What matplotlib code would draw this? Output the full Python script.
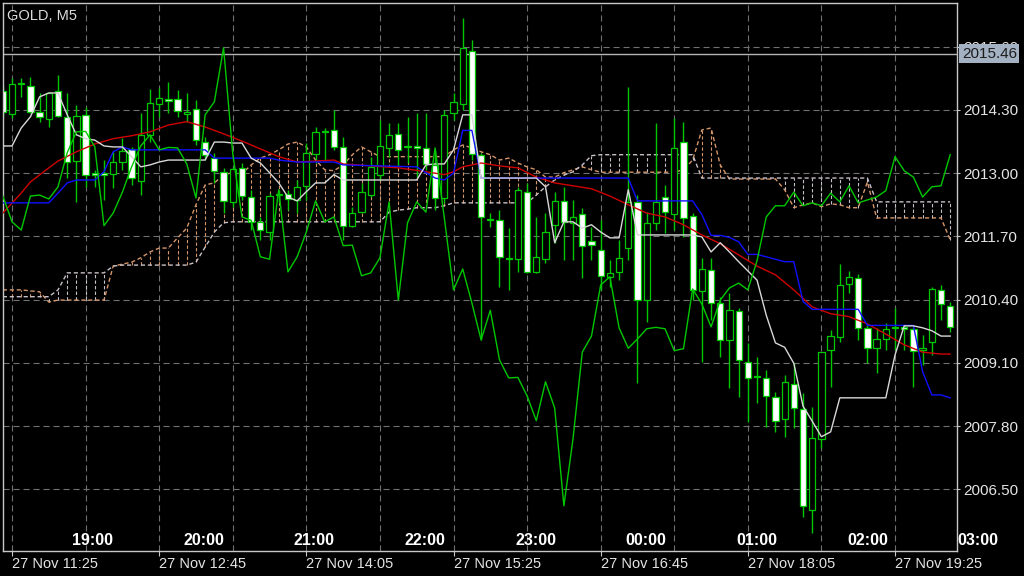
import numpy as np
import matplotlib
matplotlib.use('Agg')
import matplotlib.pyplot as plt
from matplotlib.transforms import blended_transform_factory

plt.rcParams['font.family'] = ['Liberation Sans', 'DejaVu Sans']

# ---------------------------------------------------------------------------
# GOLD M5 candles, bars -1 .. 102 (bar 0 = 27 Nov 11:25)
# ---------------------------------------------------------------------------
opens = [
    2014.70,  # bar -1
    2014.22, 2014.83, 2014.80, 2014.26, 2014.12, 2014.69, 2014.16, 2013.25, 2014.20, 2012.99,  # 0-9
    2012.98, 2012.98, 2013.23, 2013.50, 2012.84, 2013.79, 2014.42, 2014.53, 2014.53, 2014.22,  # 10-19
    2014.32, 2013.64, 2013.31, 2013.03, 2012.41, 2013.11, 2012.51, 2012.00, 2011.79, 2012.58,  # 20-29
    2012.58, 2012.45, 2012.74, 2013.40, 2013.84, 2013.89, 2013.54, 2011.92, 2012.20, 2012.55,  # 30-39
    2012.96, 2013.52, 2013.81, 2013.55, 2013.55, 2013.52, 2013.17, 2012.49, 2014.24, 2014.43,  # 40-49
    2015.52, 2013.38, 2012.05, 2012.04, 2011.25, 2011.24, 2012.61, 2010.97, 2011.24, 2011.94,  # 50-59
    2012.43, 2011.98, 2012.16, 2011.61, 2011.42, 2010.87, 2010.97, 2011.46, 2012.41, 2010.39,  # 60-69
    2011.98, 2012.51, 2012.16, 2013.64, 2012.12, 2010.58, 2011.01, 2010.33, 2009.57, 2010.16,  # 70-79
    2009.12, 2008.82, 2008.79, 2008.40, 2007.95, 2008.67, 2008.15, 2006.07, 2007.53, 2009.37,  # 80-89
    2009.63, 2010.72, 2010.85, 2009.82, 2009.40, 2009.59, 2009.81, 2009.84, 2009.80, 2009.37,  # 90-99
    2009.53, 2010.60, 2010.27,  # 100-102
]
highs = [
    2014.80,
    2014.96, 2014.96, 2014.98, 2014.65, 2014.67, 2015.02, 2014.65, 2014.40, 2014.36, 2013.06,
    2013.27, 2013.44, 2013.72, 2013.54, 2014.24, 2014.73, 2014.75, 2014.88, 2014.71, 2014.65,
    2014.51, 2013.75, 2013.42, 2013.10, 2013.13, 2013.20, 2012.66, 2012.10, 2012.59, 2012.65,
    2012.66, 2012.86, 2013.62, 2013.95, 2013.93, 2014.30, 2013.75, 2012.31, 2012.80, 2013.33,
    2014.09, 2014.03, 2014.03, 2014.16, 2014.24, 2014.24, 2013.48, 2014.30, 2014.65, 2016.20,
    2015.74, 2013.42, 2012.18, 2012.25, 2011.87, 2012.72, 2012.80, 2012.10, 2012.18, 2012.61,
    2012.72, 2012.45, 2012.29, 2011.89, 2012.04, 2011.22, 2011.63, 2014.78, 2012.55, 2012.20,
    2014.03, 2012.76, 2014.14, 2014.06, 2012.18, 2011.26, 2011.26, 2010.46, 2010.54, 2010.22,
    2009.51, 2009.22, 2008.95, 2008.50, 2008.85, 2009.10, 2008.48, 2008.19, 2009.32, 2009.77,
    2011.14, 2010.99, 2010.93, 2009.88, 2009.82, 2009.92, 2010.23, 2009.88, 2009.84, 2009.67,
    2010.66, 2010.70, 2010.35,
]
lows = [
    2014.15,
    2014.14, 2014.57, 2014.24, 2014.05, 2013.95, 2014.16, 2012.90, 2012.41, 2012.72, 2012.72,
    2012.45, 2012.70, 2013.07, 2012.76, 2012.55, 2013.64, 2014.16, 2014.24, 2014.16, 2014.05,
    2013.58, 2013.27, 2012.80, 2012.18, 2012.31, 2012.45, 2011.83, 2011.63, 2011.63, 2012.40,
    2012.25, 2012.18, 2012.45, 2013.21, 2013.25, 2013.48, 2011.63, 2011.90, 2012.18, 2012.51,
    2012.86, 2013.33, 2013.13, 2013.21, 2012.92, 2013.07, 2012.25, 2012.39, 2014.10, 2014.30,
    2013.27, 2009.57, 2011.90, 2010.66, 2010.60, 2010.97, 2010.95, 2010.95, 2011.15, 2011.57,
    2011.22, 2011.22, 2010.85, 2011.22, 2010.60, 2010.66, 2010.80, 2011.22, 2008.69, 2009.94,
    2011.83, 2011.77, 2011.83, 2011.69, 2010.40, 2009.12, 2009.98, 2009.22, 2008.58, 2008.40,
    2007.88, 2008.27, 2007.78, 2007.68, 2007.58, 2007.76, 2005.93, 2005.60, 2007.35, 2008.60,
    2009.53, 2010.54, 2009.57, 2009.10, 2008.89, 2009.37, 2009.37, 2009.37, 2008.60, 2009.06,
    2009.26, 2009.98, 2009.74,
]
closes = [
    2014.25,
    2014.84, 2014.85, 2014.26, 2014.16, 2014.65, 2014.18, 2013.23, 2014.18, 2012.97, 2012.97,
    2012.97, 2013.23, 2013.46, 2012.90, 2013.79, 2014.44, 2014.55, 2014.49, 2014.28, 2014.25,
    2013.68, 2013.38, 2013.05, 2012.43, 2013.09, 2012.53, 2012.00, 2011.83, 2012.53, 2012.55,
    2012.47, 2012.72, 2013.42, 2013.85, 2013.86, 2013.54, 2011.92, 2012.18, 2012.61, 2013.13,
    2013.56, 2013.79, 2013.48, 2013.53, 2013.52, 2013.19, 2012.49, 2014.20, 2014.47, 2015.58,
    2013.40, 2012.10, 2012.03, 2011.28, 2011.23, 2012.66, 2010.97, 2011.28, 2011.79, 2012.43,
    2012.00, 2012.10, 2011.51, 2011.52, 2010.89, 2010.95, 2011.26, 2012.41, 2010.39, 2011.98,
    2012.41, 2012.20, 2013.52, 2012.08, 2010.60, 2011.03, 2010.33, 2009.57, 2010.18, 2009.16,
    2008.79, 2008.80, 2008.42, 2007.91, 2008.71, 2008.17, 2006.16, 2007.55, 2009.32, 2009.65,
    2010.70, 2010.87, 2009.82, 2009.40, 2009.59, 2009.80, 2009.83, 2009.80, 2009.35, 2009.39,
    2010.62, 2010.31, 2009.84,
]
# closes of bars 103..128 (off screen), only visible through the Chikou span
future_closes = [
    2010.39, 2010.64, 2010.74, 2010.60, 2011.20, 2012.10, 2012.33, 2012.33, 2012.61, 2012.33,
    2012.39, 2012.33, 2012.59, 2012.41, 2012.74, 2012.39, 2012.45, 2012.51, 2012.64, 2013.34,
    2013.05, 2012.92, 2012.51, 2012.72, 2012.74, 2013.38,
]

# Ichimoku cloud (already shifted forward), one value per visible bar
span_a = ([2010.60, 2010.60, 2010.60, 2010.58, 2010.56, 2010.35] + [2010.39] * 6 +
          [2011.09, 2011.13, 2011.17, 2011.26, 2011.38, 2011.46, 2011.46, 2011.67, 2011.87,
           2012.35, 2012.76, 2012.80, 2012.97, 2013.01, 2012.99, 2013.17, 2013.31, 2013.38,
           2013.48, 2013.60, 2013.64, 2013.54, 2013.27, 2013.07, 2013.05, 2013.17, 2013.38,
           2013.54, 2013.44] + [2013.34] * 8 +
          [2013.48, 2013.58, 2013.52, 2013.44, 2013.38, 2013.27, 2013.31, 2013.21, 2013.13,
           2013.07, 2012.92, 2012.92, 2013.01, 2013.07, 2013.13, 2013.07] + [2013.02] * 9 +
          [2013.07, 2013.27, 2013.89, 2013.93, 2013.17] + [2012.88] * 6 +
          [2012.66, 2012.29, 2012.35, 2012.39, 2012.31, 2012.37, 2012.35, 2012.29, 2012.29,
           2012.82] + [2012.08] * 8 + [2011.63])
span_b = ([2010.46] * 6 + [2010.60] + [2010.95] * 5 + [2011.09] + [2011.11] * 8 +
          [2011.17, 2011.48, 2011.79, 2011.98] + [2012.00] * 17 +
          [2012.20, 2012.24, 2012.26, 2012.29, 2012.29, 2012.29, 2012.33] + [2012.39] * 9 +
          [2012.55, 2012.72, 2012.86, 2012.96, 2013.03, 2013.17, 2013.36] + [2013.38] * 11 +
          [2012.90] * 19 + [2012.41] * 9)

# Tenkan-sen (white), Kijun-sen (blue), moving average (red): vertices
tenkan_x = [-1, 0, 1, 2, 3, 4, 5, 6, 7, 8, 9, 10, 11, 12, 13, 14, 15, 16, 17, 21, 22, 23, 24,
            25, 26, 27, 28, 29, 30, 31, 32, 33, 34, 35, 36, 44, 45, 46, 47, 48, 49, 50, 51, 57,
            58, 59, 60, 61, 62, 63, 64, 65, 66, 67, 68, 74, 75, 76, 77, 78, 79, 80, 81, 82, 83,
            84, 85, 86, 87, 88, 89, 90, 95, 96, 97, 98, 99, 100, 101, 102]
tenkan = [2013.56, 2013.56, 2013.93, 2014.16, 2014.57, 2014.65, 2014.65, 2014.20, 2013.79,
          2013.71, 2013.68, 2013.56, 2013.54, 2013.54, 2013.34, 2013.13, 2013.17, 2013.23,
          2013.27, 2013.27, 2013.64, 2013.64, 2013.62, 2013.62, 2013.31, 2013.21, 2013.01,
          2012.80, 2012.51, 2012.43, 2012.62, 2012.80, 2012.80, 2012.97, 2012.86, 2012.86,
          2013.17, 2013.19, 2013.19, 2013.48, 2014.20, 2014.20, 2012.90, 2012.90, 2012.72,
          2011.57, 2012.00, 2012.00, 2011.87, 2011.94, 2011.79, 2011.67, 2011.67, 2012.66,
          2011.73, 2011.73, 2011.69, 2011.38, 2011.57, 2011.38, 2011.18, 2010.99, 2010.80,
          2010.08, 2009.51, 2009.42, 2009.09, 2008.21, 2007.90, 2007.58, 2007.68, 2008.38,
          2008.38, 2009.26, 2009.86, 2009.86, 2009.82, 2009.76, 2009.65, 2009.65]
kijun_x = [-1, 4, 5, 6, 7, 9, 10, 11, 12, 13, 21, 22, 28, 29, 31, 35, 36, 44, 45, 46, 47, 48,
           49, 50, 51, 67, 68, 74, 75, 76, 77, 78, 79, 80, 81, 82, 83, 84, 85, 86, 87, 92, 93,
           98, 99, 100, 101, 102]
kijun = [2012.39, 2012.39, 2012.59, 2012.80, 2012.86, 2012.86, 2013.03, 2013.44, 2013.54,
         2013.48, 2013.48, 2013.31, 2013.31, 2013.27, 2013.23, 2013.23, 2013.17, 2013.13,
         2013.01, 2012.90, 2012.86, 2013.00, 2013.88, 2013.88, 2012.90, 2012.90, 2012.43,
         2012.43, 2012.15, 2011.72, 2011.72, 2011.68, 2011.59, 2011.33, 2011.33, 2011.28,
         2011.23, 2011.18, 2011.18, 2010.36, 2010.20, 2010.20, 2009.87, 2009.87, 2008.92,
         2008.44, 2008.44, 2008.38]
ma_x = [-1, 1, 2, 4, 5, 7, 9, 11, 13, 15, 17, 19, 21, 23, 25, 27, 29, 31, 33, 35, 36, 39, 42,
        45, 47, 48, 49, 51, 53, 55, 57, 59, 61, 63, 65, 67, 69, 71, 73, 75, 77, 79, 81, 83, 85,
        87, 89, 91, 93, 95, 97, 99, 101, 102]
ma = [2012.18, 2012.59, 2012.82, 2013.11, 2013.25, 2013.44, 2013.60, 2013.71, 2013.77, 2013.85,
      2013.99, 2014.06, 2013.95, 2013.81, 2013.66, 2013.50, 2013.34, 2013.23, 2013.25, 2013.27,
      2013.19, 2013.15, 2013.11, 2013.03, 2012.97, 2013.03, 2013.13, 2013.21, 2013.15, 2013.11,
      2012.92, 2012.80, 2012.74, 2012.68, 2012.53, 2012.35, 2012.18, 2012.10, 2011.94, 2011.73,
      2011.55, 2011.32, 2011.09, 2010.91, 2010.60, 2010.25, 2010.11, 2010.05, 2009.90, 2009.69,
      2009.47, 2009.32, 2009.28, 2009.28]

price_ticks = [2015.60, 2014.30, 2013.00, 2011.70, 2010.40, 2009.10, 2007.80, 2006.50]
last_price = 2015.46
date_bars = [0, 16, 32, 48, 64, 80, 96]
date_labels = ['27 Nov 11:25', '27 Nov 12:45', '27 Nov 14:05', '27 Nov 15:25',
               '27 Nov 16:45', '27 Nov 18:05', '27 Nov 19:25']
hour_labels = ['19:00', '20:00', '21:00', '22:00', '23:00', '00:00', '01:00', '02:00', '03:00']

# ---------------------------------------------------------------------------
GREEN = '#00c800'
TAN = '#d4956a'
THISTLE = '#c8c0c8'
GRID = '#707070'
TXT = '#e4e4e4'

bars = np.arange(-1, 103)
o, h, l, c = (np.array(v) for v in (opens, highs, lows, closes))
a, b = np.array(span_a), np.array(span_b)
chikou = closes[26:] + future_closes

fig = plt.figure(figsize=(10.24, 5.76), dpi=100, facecolor='black')
ax = fig.add_axes([3 / 1024, 25 / 576, 954 / 1024, 548 / 576])
ax.set_facecolor('black')
ax.set_xlim(-0.98, 102.74)
ax.set_ylim(2005.23, 2016.50)

# grid
for p in price_ticks:
    ax.axhline(p, color=GRID, lw=0.8, ls=(0, (5.5, 3.5)), zorder=0.5)
for i in range(0, 103, 8):
    ax.axvline(i, color=GRID, lw=0.8, ls=(0, (5.5, 3.5)), zorder=0.5)
ax.axhline(last_price, color='#b4b4b4', lw=1.0, zorder=0.6)

# cloud: dotted histogram between the spans + the two span lines
dash = (0, (3, 2))
up_k = a >= b
ax.vlines(bars[up_k], b[up_k], a[up_k], colors=TAN, lw=0.8, linestyles=[dash], zorder=1)
ax.vlines(bars[~up_k], a[~up_k], b[~up_k], colors=THISTLE, lw=0.8, linestyles=[dash], zorder=1)
ax.plot(bars, a, color=TAN, lw=1.0, ls=dash, zorder=1.2)
ax.plot(bars, b, color=THISTLE, lw=1.0, ls=dash, zorder=1.2)

# candles
bull = c >= o
ax.vlines(bars, l, h, colors=GREEN, lw=1.0, zorder=2)
body = np.maximum(np.abs(c - o), 0.03)
ax.bar(bars, body, bottom=np.minimum(o, c), width=0.68,
       color=np.where(bull, 'black', 'white'), edgecolor=GREEN, linewidth=0.9, zorder=2.5)

# indicator lines
ax.plot(ma_x, ma, color='#d00000', lw=1.0, zorder=3)
ax.plot(kijun_x, kijun, color='#1010ff', lw=1.0, zorder=3.1)
ax.plot(tenkan_x, tenkan, color='#d8d8d8', lw=1.0, zorder=3.2)
ax.plot(bars, chikou, color=GREEN, lw=1.0, zorder=3.3)

# axes styling
for s in ax.spines.values():
    s.set_color('#c8c8c8')
    s.set_linewidth(1.0)
ax.yaxis.tick_right()
ax.set_yticks(price_ticks, [f'{p:.2f}' for p in price_ticks])
ax.tick_params(axis='y', colors='#c8c8c8', labelcolor=TXT, labelsize=11, length=2.5, pad=2)
ax.set_xticks(date_bars, date_labels)
for t in ax.get_xticklabels():
    t.set_horizontalalignment('left')
ax.tick_params(axis='x', colors='#c8c8c8', labelcolor=TXT, labelsize=10.5, length=3.5, pad=1)

# last price tag (covers the lower half of the 2015.60 label, as on the terminal)
tr = blended_transform_factory(ax.transAxes, ax.transData)
ax.text(1.005, last_price, f'{last_price:.2f}', transform=tr, ha='left', va='center',
        fontsize=11, color='#1c1c1c', clip_on=False, zorder=10,
        bbox=dict(boxstyle='square,pad=0.16', fc='#a3b1c2', ec='none'))

# local-time hour labels along the bottom
for k, lab in enumerate(hour_labels):
    ax.text(8.8 + 12.03 * k, 2005.45, lab, ha='center', va='center', color='white',
            fontsize=11.5, fontweight='bold', clip_on=False, zorder=6)

fig.text(7 / 1024, 1 - 16 / 576, 'GOLD, M5', ha='left', va='center', color='#dcdcdc',
         fontsize=10.5)

fig.savefig('out.png', dpi=100, facecolor='black')
